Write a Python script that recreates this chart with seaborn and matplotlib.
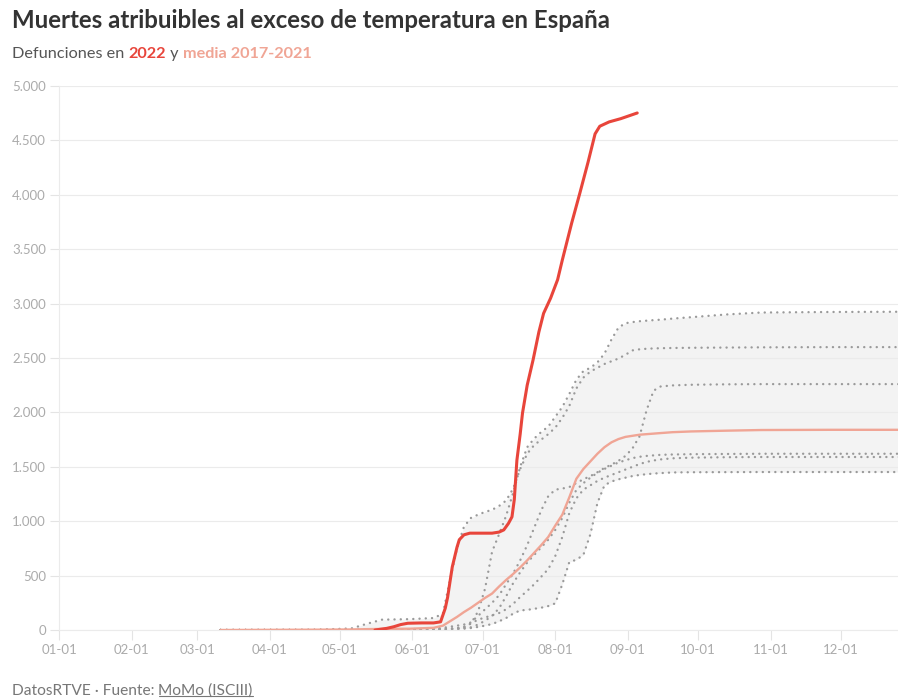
import numpy as np
import pandas as pd
import matplotlib
matplotlib.use("Agg")
import matplotlib.pyplot as plt
import seaborn as sns
from matplotlib.lines import Line2D

# ---------------- DATA ----------------
# day of year (0 = 1 Jan) for the 2017-2021 reference years
days_hist = [69, 110, 125, 132, 138, 150, 160, 164, 167, 170, 173, 176, 179, 182, 185,
             188, 191, 194, 197, 200, 203, 206, 209, 212, 215, 218, 221, 224, 227, 230,
             233, 236, 239, 242, 245, 248, 251, 254, 257, 262, 270, 285, 300, 330, 359]

hist_a = [0, 0, 0, 2, 3, 5, 5, 5, 8, 10, 25, 60, 170, 380, 720,
          880, 1050, 1260, 1500, 1680, 1760, 1820, 1870, 1960, 2050, 2170, 2300, 2380, 2410, 2460,
          2540, 2670, 2780, 2820, 2830, 2838, 2843, 2848, 2852, 2862, 2875, 2900, 2918, 2923, 2925]
hist_b = [0, 2, 15, 60, 95, 100, 110, 150, 460, 750, 950, 1030, 1060, 1085, 1105,
          1140, 1190, 1300, 1480, 1620, 1700, 1750, 1800, 1860, 1950, 2060, 2220, 2320, 2375, 2410,
          2445, 2470, 2495, 2530, 2570, 2580, 2585, 2588, 2590, 2592, 2594, 2596, 2598, 2600, 2600]
hist_c = [0, 0, 2, 3, 5, 8, 12, 20, 30, 40, 50, 70, 130, 190, 250,
          320, 420, 520, 640, 780, 940, 1100, 1230, 1290, 1300, 1314, 1351, 1385, 1415, 1450,
          1490, 1520, 1555, 1600, 1670, 1780, 2020, 2200, 2238, 2248, 2254, 2258, 2260, 2260, 2260]
hist_d = [0, 0, 0, 2, 3, 5, 8, 10, 12, 15, 18, 25, 50, 85, 130,
          200, 310, 430, 530, 620, 690, 760, 830, 920, 1030, 1170, 1287, 1350, 1400, 1445,
          1480, 1510, 1540, 1560, 1580, 1592, 1600, 1605, 1610, 1613, 1616, 1618, 1620, 1620, 1620]
hist_e = [0, 0, 0, 0, 2, 3, 5, 8, 12, 18, 30, 60, 95, 115, 135,
          156, 190, 240, 303, 360, 420, 490, 560, 680, 855, 1075, 1210, 1290, 1330, 1370,
          1400, 1425, 1450, 1475, 1500, 1525, 1545, 1558, 1568, 1578, 1584, 1588, 1590, 1590, 1590]
hist_f = [0, 0, 0, 0, 0, 2, 4, 5, 6, 8, 12, 18, 28, 40, 55,
          80, 110, 150, 180, 185, 195, 205, 220, 245, 420, 625, 645, 690, 880, 1167,
          1330, 1365, 1385, 1400, 1415, 1425, 1432, 1438, 1442, 1448, 1450, 1451, 1452, 1452, 1452]
mean_hist = [0, 3, 5, 8, 10, 12, 20, 40, 80, 120, 165, 205, 250, 295, 335,
             400, 460, 515, 575, 640, 710, 780, 855, 960, 1060, 1220, 1390, 1480, 1550, 1620,
             1680, 1725, 1755, 1775, 1785, 1795, 1800, 1805, 1810, 1818, 1825, 1832, 1838, 1840, 1840]

days_2022 = [135, 140, 143, 146, 149, 155, 160, 163, 165, 166, 168, 170, 171, 173, 175.5,
             180, 185, 188, 190, 192, 193.5, 194.5, 195.6, 197, 198, 200, 202.5, 205, 207, 210,
             213, 215, 219, 222.5, 226, 229, 231, 235, 240, 247]
deaths_2022 = [0, 15, 30, 50, 62, 65, 65, 75, 200, 300, 580, 760, 830, 875, 890,
               890, 890, 900, 920, 980, 1040, 1200, 1560, 1800, 1994, 2250, 2481, 2740, 2910, 3050,
               3220, 3400, 3740, 4016, 4300, 4560, 4630, 4670, 4700, 4752]

month_ticks = [0, 31, 59, 90, 120, 151, 181, 212, 243, 273, 304, 334]
month_labels = ["01-01", "02-01", "03-01", "04-01", "05-01", "06-01",
                "07-01", "08-01", "09-01", "10-01", "11-01", "12-01"]
y_ticks = [0, 500, 1000, 1500, 2000, 2500, 3000, 3500, 4000, 4500, 5000]
y_labels = ["0", "500", "1.000", "1.500", "2.000", "2.500", "3.000",
            "3.500", "4.000", "4.500", "5.000"]

hist_series = {"A": hist_a, "B": hist_b, "C": hist_c, "D": hist_d, "E": hist_e, "F": hist_f}

# ---------------- STYLE ----------------
sns.set_theme(style="white")
plt.rcParams['font.family'] = ['Lato', 'DejaVu Sans']

RED = "#e8453b"
PINK = "#f0a595"
GREY_DOT = "#9a9a9a"

fig = plt.figure(figsize=(8.98, 7.0), dpi=100)
ax = fig.add_axes([59 / 898, 70 / 700, 839 / 898, 544 / 700])

hist_df = pd.DataFrame(hist_series)
hist_df["day"] = days_hist
vals = hist_df[list(hist_series.keys())].to_numpy()
ax.fill_between(days_hist, vals.min(axis=1), vals.max(axis=1),
                color="#f3f3f3", lw=0, zorder=1)

for name, series in hist_series.items():
    sns.lineplot(x=days_hist, y=series, ax=ax, color=GREY_DOT, lw=1.7,
                 linestyle=(0, (0.05, 2.6)), dash_capstyle="round", zorder=2)

sns.lineplot(x=days_hist, y=mean_hist, ax=ax, color=PINK, lw=1.7, zorder=3)
sns.lineplot(x=days_2022, y=deaths_2022, ax=ax, color=RED, lw=2.2, zorder=4)

ax.set_xlim(0, 358.4)
ax.set_ylim(0, 5000)
ax.set_xticks(month_ticks)
ax.set_xticklabels(month_labels)
ax.set_yticks(y_ticks)
ax.set_yticklabels(y_labels)
ax.set_xlabel("")
ax.set_ylabel("")

ax.set_axisbelow("line")
ax.yaxis.grid(True, color="#ebebeb", lw=0.8)
ax.xaxis.grid(False)
for s in ["top", "right"]:
    ax.spines[s].set_visible(False)
ax.spines["left"].set_color("#ebebeb")
ax.spines["left"].set_linewidth(0.8)
ax.spines["bottom"].set_color("#ebebeb")
ax.spines["bottom"].set_linewidth(0.8)

ax.tick_params(axis="y", length=6.5, width=0.8, color="#e4e4e4", pad=3,
               labelsize=9.5, labelcolor="#ababab", left=True)
ax.tick_params(axis="x", length=7, width=0.8, color="#e4e4e4", pad=3,
               labelsize=9.5, labelcolor="#ababab", bottom=True)

# ---------------- TEXT ----------------
fig.text(12 / 898, 1 - 21 / 700, "Muertes atribuibles al exceso de temperatura en España",
         fontsize=17.3, fontweight="bold", color="#333333", va="center", ha="left")

t1 = fig.text(12 / 898, 1 - 61 / 700, "Defunciones en ", fontsize=11.7, color="#555555",
              va="bottom", ha="left")
t2 = fig.text(0, 0, "2022", fontsize=11.7, color=RED, fontweight="bold")
t3 = fig.text(0, 0, " y ", fontsize=11.7, color="#555555")
t4 = fig.text(0, 0, "media 2017-2021", fontsize=11.7, color=PINK, fontweight="bold")

f1 = fig.text(12 / 898, 1 - 698 / 700, "DatosRTVE · Fuente: ", fontsize=11.2, color="#777777",
              va="bottom", ha="left")
f2 = fig.text(0, 0, "MoMo (ISCIII)", fontsize=11.2, color="#777777")

fig.canvas.draw()
renderer = fig.canvas.get_renderer()


def chain(prev, nxt):
    bb = prev.get_window_extent(renderer)
    x, y = fig.transFigure.inverted().transform((bb.x1, bb.y0))
    nxt.set_position((x, y))
    nxt.set_va("bottom")
    nxt.set_ha("left")


chain(t1, t2)
fig.canvas.draw()
chain(t2, t3)
fig.canvas.draw()
chain(t3, t4)
chain(f1, f2)
fig.canvas.draw()

bb = f2.get_window_extent(renderer)
x0, y0 = fig.transFigure.inverted().transform((bb.x0, bb.y0 + 2))
x1, _ = fig.transFigure.inverted().transform((bb.x1, bb.y0 + 2))
fig.add_artist(Line2D([x0, x1], [y0, y0], transform=fig.transFigure,
                      color="#777777", lw=0.8))

fig.savefig("out.png", dpi=100)
